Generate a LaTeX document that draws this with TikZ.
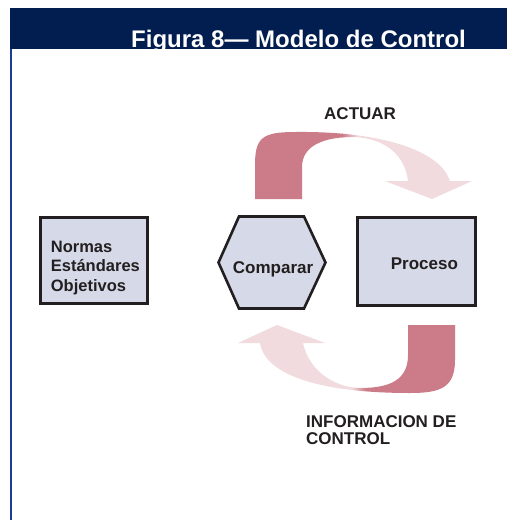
\documentclass[tikz,border=0pt]{standalone}
\usepackage{fontspec}
\setmainfont{Liberation Sans}
\definecolor{navy}{HTML}{021D50}
\definecolor{rulecol}{HTML}{1C3C92}
\definecolor{boxfill}{HTML}{D5D9E8}
\definecolor{boxline}{HTML}{231F20}
\definecolor{darkpink}{HTML}{CC7B89}
\definecolor{lightpink}{HTML}{F2DBDE}
\definecolor{txt}{HTML}{231F20}
\begin{document}
\begin{tikzpicture}[x=1pt,y=-1pt,
  box/.style={draw=boxline, line width=3pt, fill=boxfill, inner sep=0pt},
  hexbox/.style={draw=boxline, line width=2.6pt, fill=boxfill, line join=miter},
  lbl/.style={font=\fontsize{17}{17}\selectfont\bfseries, text=txt, inner sep=0pt, anchor=base west},
  nlbl/.style={font=\fontsize{16.5}{17}\selectfont\bfseries, text=txt, inner sep=0pt, anchor=base west}]
\useasboundingbox (0,0) rectangle (507,520);
\fill[white] (0,0) rectangle (507,520);
% header band
\fill[navy] (10,8) rectangle (507,48.5);
\draw[rulecol, line width=1.8pt] (11,48.5) -- (11,520);
\node[anchor=base west, inner sep=0pt, text=white, font=\fontsize{24}{28}\selectfont\bfseries] (title) at (131,47.3) {Figura 8— Modelo de Control};
% upper arrow (ACTUAR)
\begin{scope}
\clip (255,199) -- (255,165) .. controls (255,138) and (262,132) .. (295,132)
  .. controls (380,131) and (440,150) .. (450,181) -- (472,181) -- (432,199) -- (385,181) -- (408,181)
  .. controls (405,155) and (385,138) .. (353,137) .. controls (325,137) and (302,145) .. (302,167)
  -- (302,199) -- cycle;
\fill[darkpink] (240,120) rectangle (342.5,210);
\shade[left color=darkpink, right color=lightpink] (342,120) rectangle (358,210);
\fill[lightpink] (357.5,120) rectangle (480,210);
\end{scope}
% lower arrow (INFORMACION DE CONTROL)
\begin{scope}
\clip (455,325) -- (455,360) .. controls (455,388) and (440,393) .. (410,393)
  .. controls (320,393) and (265,375) .. (260,343) -- (238,343) -- (277,325) -- (325,343) -- (303,343)
  .. controls (310,375) and (340,388) .. (360,388) .. controls (390,388) and (408,380) .. (408,355)
  -- (408,325) -- cycle;
\fill[lightpink] (230,320) rectangle (352,400);
\shade[left color=lightpink, right color=darkpink] (351.5,320) rectangle (366,400);
\fill[darkpink] (365.5,320) rectangle (465,400);
\end{scope}
% boxes
\node[box, minimum width=107pt, minimum height=86pt] (norm) at (94,260.5) {};
\node[box, minimum width=118pt, minimum height=88.3pt] (proc) at (416.2,261.35) {};
\coordinate (h1) at (218.5,262.5);
\coordinate (h2) at (239,216.5);
\coordinate (h3) at (304,216.5);
\coordinate (h4) at (325.5,262.5);
\coordinate (h5) at (304,308.5);
\coordinate (h6) at (239,308.5);
\draw[hexbox] (h1) -- (h2) -- (h3) -- (h4) -- (h5) -- (h6) -- cycle;
% texts
\node[nlbl] (n1) at (50.7,252) {Normas};
\node[nlbl] (n2) at (50.7,271.7) {Estándares};
\node[nlbl] (n3) at (50.7,291.4) {Objetivos};
\node[lbl] (cmp) at (232.7,273.3) {Comparar};
\node[lbl] (proctxt) at (390.7,269.3) {Proceso};
\node[lbl] (act) at (324,119.3) {ACTUAR};
\node[lbl] (info1) at (306,427.7) {INFORMACION DE};
\node[lbl] (info2) at (306,444) {CONTROL};
\end{tikzpicture}
\end{document}
